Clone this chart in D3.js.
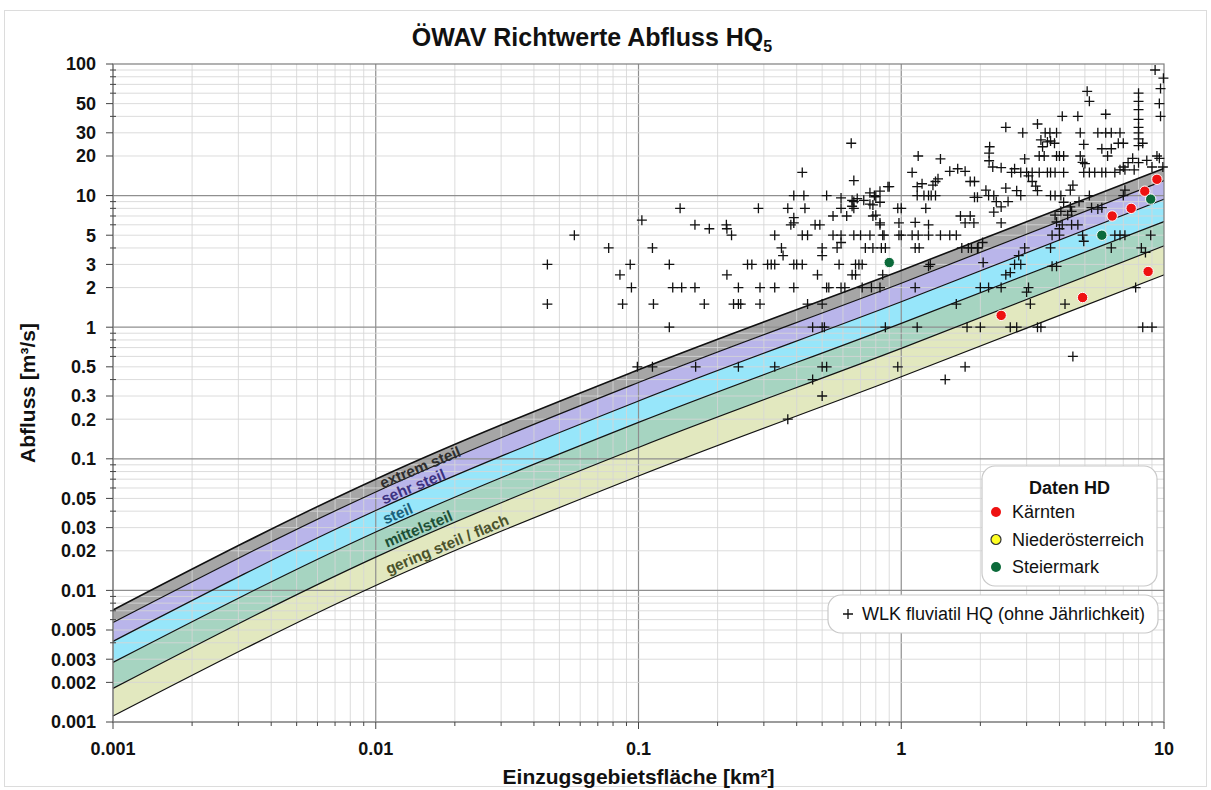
<!DOCTYPE html>
<html>
<head>
<meta charset="utf-8">
<script src="https://cdn.jsdelivr.net/npm/d3@7"></script>
<style>
  body { margin: 0; background: #ffffff; }
  svg { display: block; }
  text { font-family: "Liberation Sans", Arial, Helvetica, sans-serif; }
</style>
</head>
<body>
<svg id="chart" width="1211" height="790"></svg>
<script>
// Catchment areas [km²] at which the guideline curves are tabulated
const curveAreas = [0.001, 0.01, 0.1, 1, 10];
// Guideline discharges HQ5 [m³/s], upper edge of each class down to the lowest edge
const qExtremTop   = [0.0071, 0.070, 0.475, 2.70, 16.1];
const qSehrTop     = [0.0057, 0.056, 0.380, 2.16, 13.0];
const qSteilTop    = [0.0041, 0.0405, 0.275, 1.56, 9.4];
const qMittelTop   = [0.00284, 0.0278, 0.189, 1.07, 6.35];
const qGeringTop   = [0.0018, 0.0179, 0.122, 0.69, 4.15];
const qGeringBase  = [0.00111, 0.0109, 0.074, 0.42, 2.5];

const classNames = ["extrem steil", "sehr steil", "steil", "mittelsteil", "gering steil / flach"];

// Tick labels
const xTickLabels = [0.001, 0.01, 0.1, 1, 10];
const yTickLabels = [100, 50, 30, 20, 10, 5, 3, 2, 1, 0.5, 0.3, 0.2, 0.1, 0.05, 0.03, 0.02,
                     0.01, 0.005, 0.003, 0.002, 0.001];

// WLK fluviatil HQ: [area km², discharge m³/s]
const wlkPoints = [
  [0.045,3],[0.045,1.5],[0.057,5],[0.077,4],[0.085,2.5],[0.087,1.5],[0.093,3],[0.094,2],[0.099,0.5],
  [0.103,6.5],[0.113,4],[0.114,1.5],[0.113,0.5],[0.131,3],[0.131,1],[0.135,2],[0.146,2],[0.144,8],
  [0.164,6],[0.164,2],[0.165,0.5],[0.178,1.5],[0.186,5.6],[0.216,6],[0.217,5.6],[0.226,5],[0.217,2.5],
  [0.23,1.5],[0.24,1.5],[0.245,1.5],[0.24,2],[0.24,0.5],[0.26,3],[0.27,3],[0.286,8],[0.29,2],[0.29,1.5],
  [0.31,3],[0.32,3],[0.33,3],[0.33,5],[0.33,2],[0.33,0.5],[0.35,4],[0.355,3.5],[0.37,8],[0.37,0.2],
  [0.38,6],[0.39,10],[0.39,6.8],[0.39,6.2],[0.39,3],[0.39,2],[0.4,3],[0.42,15],[0.42,3],[0.42,5],
  [0.426,10],[0.43,8],[0.44,5],[0.44,1.5],[0.46,1],[0.46,0.4],[0.47,6],[0.48,2.5],[0.49,6],[0.5,4],
  [0.5,3.5],[0.5,1.5],[0.5,1],[0.5,0.5],[0.5,0.3],[0.51,1],[0.52,10],[0.52,2],[0.52,0.5],[0.53,2],
  [0.55,7],[0.55,5],[0.57,4],[0.58,3],[0.59,9.6],[0.59,8],[0.59,5],[0.59,4.4],[0.59,2],[0.61,2],
  [0.62,7],[0.645,25],[0.65,2.5],[0.65,9.2],[0.65,8.3],[0.66,13],[0.66,9],[0.66,8],[0.66,5],[0.67,3],
  [0.67,2.5],[0.69,3],[0.7,5],[0.71,3],[0.71,2],[0.73,4],[0.76,8.6],[0.76,5],[0.77,2],[0.78,7],
  [0.78,4],[0.79,10],[0.8,7.1],[0.83,10.8],[0.83,8.9],[0.83,6.2],[0.83,6],[0.83,2],[0.84,4],[0.85,5],
  [0.85,2.5],[0.86,5],[0.87,4],[0.87,1],[0.89,11.7],[0.9,11.7],[0.97,8],[0.97,0.5],[0.98,6.2],[0.98,5],
  [0.68,9.5],[0.72,9.2],[0.76,10.5],[0.8,9.8],[0.78,8.5],
  [1.0,8],[1.0,5],[1.1,15],[1.1,5],[1.13,6.25],[1.13,4],[1.13,2],[1.15,1],[1.15,10],[1.16,20],
  [1.16,5],[1.17,4],[1.15,11.7],[1.2,12.3],[1.24,8],[1.22,10],[1.27,10],[1.27,6],[1.27,5],[1.27,2.9],
  [1.29,3],[1.3,10],[1.32,12],[1.35,10],[1.35,12.8],[1.38,13.4],[1.41,19],[1.41,5],[1.47,0.4],
  [1.53,15.3],[1.53,5],[1.62,5],[1.62,1.5],[1.64,16],[1.68,7],[1.7,4],[1.75,15.3],[1.75,6.2],
  [1.75,0.5],[1.78,1],[1.8,4],[1.83,12.8],[1.83,7],[1.85,4],[1.89,6.2],[1.9,12.8],[1.9,9.7],
  [1.95,9.7],[1.95,4],[1.96,4],[2.0,2],[2.0,1],[2.04,4.4],[2.05,3.1],[2.1,11],[2.15,10],[2.15,2],
  [2.16,21],[2.16,18.4],[2.17,23.5],[2.23,16.5],[2.25,10],[2.3,9],[2.25,7.5],[2.4,16.3],[2.4,6.2],
  [2.4,2],[2.4,8.2],[2.5,33],[2.5,2.5],[2.5,11.4],[2.55,9],[2.6,2.6],[2.6,1],[2.63,15],[2.7,16],
  [2.7,3],[2.75,10.9],[2.75,1],[2.8,3.5],[2.85,10],[2.85,15],[2.85,3],[2.9,30],[2.95,19],[2.95,4],
  [3.0,15],[3.0,1.85],
  [3.05,14.1],[3.05,2],[3.1,1.5],[3.15,15],[3.15,12.8],[3.25,11.8],[3.3,35],[3.3,10.9],[3.3,1],
  [3.35,20],[3.35,15],[3.4,26.5],[3.4,1],[3.45,23.5],[3.5,20],[3.53,30],[3.6,25.6],[3.6,15],
  [3.68,30],[3.7,26],[3.7,15],[3.7,10],[3.7,4],[3.75,5],[3.75,2.9],[3.83,25],[3.85,15],[3.85,10],
  [3.85,7.1],[3.9,30],[3.9,20],[3.9,6.3],[3.9,2.9],[4.0,20],[4.0,5.6],[4.0,5],[4.05,10],[4.05,7.6],
  [4.1,40],[4.1,6],[4.15,20],[4.15,15],[4.15,8.9],[4.2,1.5],[4.3,7.1],[4.4,11],[4.4,8.2],[4.45,7.6],
  [4.45,6],[4.5,12],[4.5,0.6],[4.7,40],[4.7,6],[4.75,9],[4.8,30],[4.8,20],[4.9,17.9],[4.9,5],
  [4.95,15],[4.95,24.5],[4.95,4.5],[5.0,17.5],[5.1,62],[5.2,52],[5.2,15],[5.2,10],[5.3,8.1],
  [5.45,15],[5.6,30],[5.6,7.9],[5.8,22.7],[5.8,15],[5.8,8.1],[6.0,41.5],[6.0,30],[6.0,15],[6.1,20],
  [6.3,30],[6.3,22.7],[6.3,4],[6.5,15],[6.5,5],[6.7,25],[6.8,30],[6.8,15.7],[6.8,5],[7.0,25],
  [7.0,16.5],[7.0,10],[7.1,15.7],[7.1,11],[7.1,5],[7.3,17.8],[7.6,19.2],[7.7,15.7],[7.8,2],
  [8.0,60],[8.0,52],[8.0,45],[8.0,38],[8.0,33],[8.0,30],[8.0,27],[8.0,24],[8.0,17.8],[8.2,4],
  [8.3,25],[8.3,1],[8.5,3.7],[8.6,18.5],[8.9,5],[9.0,16.5],[9.0,1],[9.25,90],[9.4,20],[9.6,19.2],
  [9.6,50],[9.7,65],[9.7,40],[9.9,16.5],[9.95,78]
];

// Daten HD by federal state: [area km², discharge m³/s]
const kaernten = [[2.4,1.23],[4.9,1.68],[8.7,2.65],[6.35,7.0],[7.5,8.0],[8.45,10.8],[9.4,13.3]];
const niederoesterreich = [];
const steiermark = [[0.9,3.1],[5.8,5.0],[8.9,9.4]];

// ---- styling ----
const classFill  = ["#a6a6a6", "#b9b5ea", "#97e6fa", "#a6d4c1", "#e2e8bf"];
const classLabel = ["#2e2e2e", "#3c3282", "#1a6079", "#1c4f36", "#4b532c"];
const stateColor = { "Kärnten": "#ee1111", "Niederösterreich": "#ffff22", "Steiermark": "#0b6a3a" };

const svg = d3.select("#chart");
const W = 1211, H = 790;
const plot = { left: 113, top: 64, right: 1164, bottom: 722 };

const x = d3.scaleLog().domain([0.001, 10]).range([plot.left, plot.right]);
const y = d3.scaleLog().domain([0.001, 100]).range([plot.bottom, plot.top]);

// outer frame
svg.append("rect").attr("x", 4.5).attr("y", 10.5).attr("width", W - 9).attr("height", H - 14)
  .attr("fill", "#fff").attr("stroke", "#dcdcdc").attr("stroke-width", 1);

// title
const title = svg.append("text").attr("x", 592).attr("y", 46).attr("text-anchor", "middle")
  .attr("font-size", 25).attr("font-weight", "bold").attr("fill", "#111");
title.append("tspan").text("ÖWAV Richtwerte Abfluss HQ");
title.append("tspan").attr("font-size", 16).attr("dy", 6).text("5");

// class bands
const boundaries = [qExtremTop, qSehrTop, qSteilTop, qMittelTop, qGeringTop, qGeringBase];
const area = d3.area()
  .x(d => x(d.a)).y0(d => y(d.lo)).y1(d => y(d.hi))
  .curve(d3.curveMonotoneX);
const gBands = svg.append("g");
classNames.forEach((name, i) => {
  const rows = curveAreas.map((a, k) => ({ a, hi: boundaries[i][k], lo: boundaries[i + 1][k] }));
  gBands.append("path").datum(rows).attr("d", area).attr("fill", classFill[i]);
});

// grid
const gGrid = svg.append("g");
const decadesX = [0.001, 0.01, 0.1, 1];
const decadesY = [0.001, 0.01, 0.1, 1, 10];
decadesX.forEach(d => d3.range(1, 10).forEach(m => {
  const v = d * m;
  gGrid.append("line").attr("x1", x(v)).attr("x2", x(v)).attr("y1", plot.top).attr("y2", plot.bottom)
    .attr("stroke", m === 1 ? "#8f8f8f" : "#d6d6d6").attr("stroke-width", m === 1 ? 1.2 : 1)
    .attr("stroke-opacity", m === 1 ? 1 : 0.85);
}));
decadesY.forEach(d => d3.range(1, 10).forEach(m => {
  const v = d * m;
  gGrid.append("line").attr("y1", y(v)).attr("y2", y(v)).attr("x1", plot.left).attr("x2", plot.right)
    .attr("stroke", m === 1 ? "#8f8f8f" : "#d6d6d6").attr("stroke-width", m === 1 ? 1.2 : 1)
    .attr("stroke-opacity", m === 1 ? 1 : 0.85);
}));

// class boundary lines
const line = d3.line().x(d => x(d.a)).y(d => y(d.q)).curve(d3.curveMonotoneX);
boundaries.forEach((b, i) => {
  svg.append("path").datum(curveAreas.map((a, k) => ({ a, q: b[k] })))
    .attr("d", line).attr("fill", "none").attr("stroke", "#111")
    .attr("stroke-width", i === 0 ? 1.6 : 1.2);
});

// class names along the bands
function pixelAt(b, a) {
  const la = Math.log10(a);
  let k = 0;
  while (k < curveAreas.length - 2 && la > Math.log10(curveAreas[k + 1])) k++;
  const a0 = curveAreas[k], a1 = curveAreas[k + 1];
  const t = (la - Math.log10(a0)) / (Math.log10(a1) - Math.log10(a0));
  const lq = Math.log10(b[k]) + t * (Math.log10(b[k + 1]) - Math.log10(b[k]));
  return [x(a), y(Math.pow(10, lq))];
}
const labelArea = 0.0104;
classNames.forEach((name, i) => {
  const [px, pTop] = pixelAt(boundaries[i], labelArea);
  const [, pBot] = pixelAt(boundaries[i + 1], labelArea);
  const [px2, pBot2] = pixelAt(boundaries[i + 1], labelArea * 3);
  const ang = Math.atan2(pBot2 - pBot, px2 - px) * 180 / Math.PI;
  const cy = (pTop + pBot) / 2;
  svg.append("text").attr("transform", `translate(${px + i * 1.5},${cy}) rotate(${ang})`)
    .attr("dy", "0.36em").attr("font-size", 15.5).attr("font-weight", "bold")
    .attr("fill", classLabel[i]).text(name);
});

// plot border
svg.append("rect").attr("x", plot.left).attr("y", plot.top)
  .attr("width", plot.right - plot.left).attr("height", plot.bottom - plot.top)
  .attr("fill", "none").attr("stroke", "#7f7f7f").attr("stroke-width", 1.2);

// axes ticks
const gAx = svg.append("g");
decadesY.concat([100]).forEach(d => d3.range(1, 10).forEach(m => {
  const v = d * m;
  if (v > 100.0001) return;
  const labeled = yTickLabels.some(t => Math.abs(t - v) / v < 1e-6);
  gAx.append("line").attr("x1", labeled ? plot.left - 7 : plot.left - 3).attr("x2", labeled ? plot.left : plot.left + 3)
    .attr("y1", y(v)).attr("y2", y(v)).attr("stroke", "#444").attr("stroke-width", 1);
}));
decadesX.concat([10]).forEach(d => d3.range(1, 10).forEach(m => {
  const v = d * m;
  if (v > 10.0001) return;
  gAx.append("line").attr("x1", x(v)).attr("x2", x(v)).attr("y1", plot.bottom)
    .attr("y2", plot.bottom + (m === 1 ? 7 : 4)).attr("stroke", "#444").attr("stroke-width", 1);
}));
gAx.selectAll("text.yl").data(yTickLabels).join("text").attr("class", "yl")
  .attr("x", plot.left - 17).attr("y", d => y(d)).attr("dy", "0.36em").attr("text-anchor", "end")
  .attr("font-size", 18).attr("font-weight", "bold").attr("fill", "#111").text(d => String(d));
gAx.selectAll("text.xl").data(xTickLabels).join("text").attr("class", "xl")
  .attr("x", d => x(d)).attr("y", plot.bottom + 33).attr("text-anchor", "middle")
  .attr("font-size", 18).attr("font-weight", "bold").attr("fill", "#111").text(d => String(d));

// axis titles
svg.append("text").attr("transform", `translate(35,${(plot.top + plot.bottom) / 2}) rotate(-90)`)
  .attr("text-anchor", "middle").attr("font-size", 21).attr("font-weight", "bold").attr("fill", "#111")
  .text("Abfluss [m³/s]");
svg.append("text").attr("x", (plot.left + plot.right) / 2).attr("y", 784).attr("text-anchor", "middle")
  .attr("font-size", 21).attr("font-weight", "bold").attr("fill", "#111")
  .text("Einzugsgebietsfläche [km²]");

// WLK crosses
const cross = "M-5,0H5M0,-5V5";
svg.append("g").selectAll("path").data(wlkPoints).join("path")
  .attr("transform", d => `translate(${x(d[0])},${y(d[1])})`)
  .attr("d", cross).attr("stroke", "#111").attr("stroke-width", 1.3).attr("fill", "none");

// Daten HD dots
const states = [["Kärnten", kaernten], ["Niederösterreich", niederoesterreich], ["Steiermark", steiermark]];
states.forEach(([name, pts]) => {
  svg.append("g").selectAll("circle").data(pts).join("circle")
    .attr("cx", d => x(d[0])).attr("cy", d => y(d[1])).attr("r", 5.2)
    .attr("fill", stateColor[name])
    .attr("stroke", name === "Niederösterreich" ? "#333" : "#ffffff").attr("stroke-width", 1);
});

// legend: Daten HD
const lg = svg.append("g");
lg.append("rect").attr("x", 982).attr("y", 466).attr("width", 175).attr("height", 120).attr("rx", 13)
  .attr("fill", "#fff").attr("stroke", "#c9c9c9").attr("stroke-width", 1.2);
lg.append("text").attr("x", 1069.5).attr("y", 494).attr("text-anchor", "middle")
  .attr("font-size", 18).attr("font-weight", "bold").attr("fill", "#111").text("Daten HD");
states.forEach(([name], i) => {
  const cy = 512 + i * 27.5;
  lg.append("circle").attr("cx", 996).attr("cy", cy).attr("r", 5)
    .attr("fill", stateColor[name]).attr("stroke", name === "Niederösterreich" ? "#333" : "none")
    .attr("stroke-width", 1.2);
  lg.append("text").attr("x", 1012).attr("y", cy).attr("dy", "0.36em")
    .attr("font-size", 18).attr("fill", "#111").text(name);
});

// legend: WLK
const lw = svg.append("g");
lw.append("rect").attr("x", 828).attr("y", 595).attr("width", 330).attr("height", 38).attr("rx", 13)
  .attr("fill", "#fff").attr("stroke", "#c9c9c9").attr("stroke-width", 1.2);
lw.append("path").attr("transform", "translate(848,614)").attr("d", cross)
  .attr("stroke", "#111").attr("stroke-width", 1.3);
lw.append("text").attr("x", 862).attr("y", 614).attr("dy", "0.36em")
  .attr("font-size", 18).attr("fill", "#111").text("WLK fluviatil HQ (ohne Jährlichkeit)");
</script>
</body>
</html>
